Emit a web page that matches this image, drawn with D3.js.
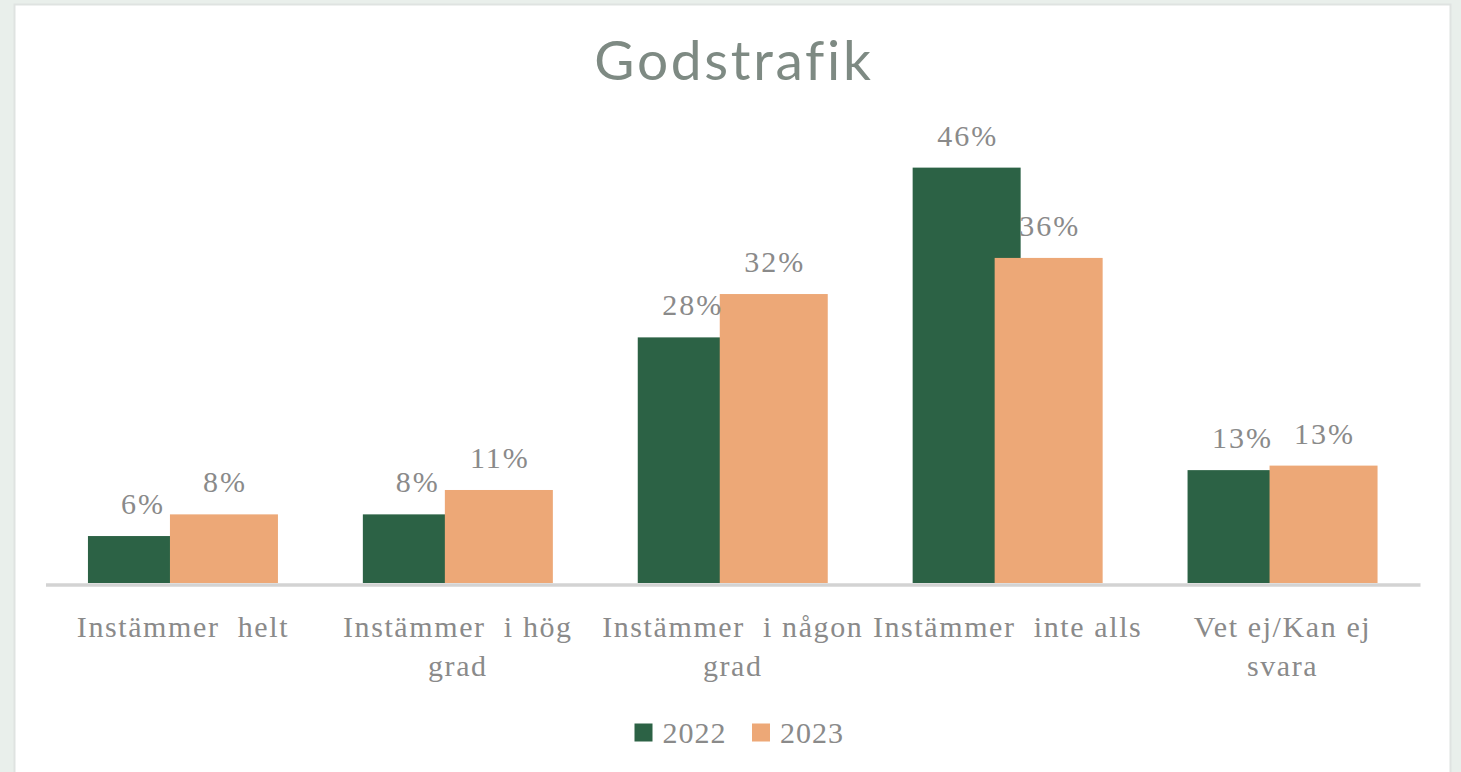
<!DOCTYPE html>
<html>
<head>
<meta charset="utf-8">
<script src="https://cdn.jsdelivr.net/npm/d3@7"></script>
<style>
  html, body { margin: 0; padding: 0; background: #e9efeb; }
  svg { display: block; }
  text { white-space: pre; }
  .serif { font-family: "Liberation Serif", "Times New Roman", Times, "DejaVu Serif", serif; }
</style>
</head>
<body>
<svg id="chart" width="1461" height="772"></svg>
<script>
// ---- data ----
const title = "Godstrafik";
const categories = [
  "Instämmer  helt",
  "Instämmer  i hög grad",
  "Instämmer  i någon grad",
  "Instämmer  inte alls",
  "Vet ej/Kan ej svara"
];
const categoryLines = [
  ["Instämmer  helt"],
  ["Instämmer  i hög", "grad"],
  ["Instämmer  i någon", "grad"],
  ["Instämmer  inte alls"],
  ["Vet ej/Kan ej", "svara"]
];
const seriesNames = ["2022", "2023"];
const values2022 = [5.2, 7.6, 27.2, 46.0, 12.5];
const values2023 = [7.6, 10.3, 32.0, 36.0, 13.0];
const labels2022 = ["6%", "8%", "28%", "46%", "13%"];
const labels2023 = ["8%", "11%", "32%", "36%", "13%"];
const colors = ["#2c6245", "#eda877"];

// ---- layout ----
const svg = d3.select("#chart");
const plot = { left: 45.5, right: 1420, top: 130, bottom: 583 };

svg.append("rect").attr("x", 14.5).attr("y", 4.5).attr("width", 1436).attr("height", 780)
  .attr("fill", "#ffffff").attr("stroke", "#dfe3e1").attr("stroke-width", 2);

svg.append("text")
  .attr("x", 734).attr("y", 80)
  .attr("text-anchor", "middle")
  .attr("font-family", "Lato, 'Open Sans', sans-serif")
  .attr("font-size", 55)
  .attr("letter-spacing", 2.7)
  .attr("fill", "#7e8a83")
  .text(title);

const x = d3.scaleBand().domain(categories).range([plot.left, plot.right]).paddingInner(0).paddingOuter(0);
const y = d3.scaleLinear().domain([0, 50]).range([plot.bottom, plot.bottom - 451.5]);

const barW = 108;
const offset = 82;
const groupW = offset + barW;

const series = [values2022, values2023];
const labels = [labels2022, labels2023];

series.forEach((vals, s) => {
  svg.append("g").selectAll("rect").data(vals).join("rect")
    .attr("x", (d, i) => x(categories[i]) + (x.bandwidth() - groupW) / 2 + s * offset)
    .attr("y", d => y(d))
    .attr("width", barW)
    .attr("height", d => y(0) - y(d))
    .attr("fill", colors[s]);
});

series.forEach((vals, s) => {
  svg.append("g").selectAll("text").data(vals).join("text")
    .attr("class", "serif")
    .attr("x", (d, i) => x(categories[i]) + (x.bandwidth() - groupW) / 2 + s * offset + barW / 2 + 1)
    .attr("y", d => y(d) - 22)
    .attr("text-anchor", "middle")
    .attr("font-size", 30)
    .attr("letter-spacing", 2)
    .attr("fill", "#8a8a8a")
    .text((d, i) => labels[s][i]);
});

const xAxis = d3.axisBottom(x).tickSize(0).tickFormat(() => "");
const axG = svg.append("g").attr("transform", `translate(0,${plot.bottom + 1.5})`).call(xAxis);
axG.select(".domain").attr("stroke", "#d3d3d3").attr("stroke-width", 3.5);

categoryLines.forEach((lines, i) => {
  const t = svg.append("text")
    .attr("class", "serif")
    .attr("text-anchor", "middle")
    .attr("font-size", 30)
    .attr("letter-spacing", 1.6)
    .attr("fill", "#8a8a8a");
  lines.forEach((ln, k) => {
    t.append("tspan")
      .attr("x", x(categories[i]) + x.bandwidth() / 2)
      .attr("y", 637 + k * 39)
      .text(ln);
  });
});

const legendX = [634.5, 752];
seriesNames.forEach((name, s) => {
  svg.append("rect").attr("x", legendX[s]).attr("y", 723.5).attr("width", 18).attr("height", 18)
    .attr("fill", colors[s]);
  svg.append("text").attr("class", "serif").attr("x", legendX[s] + 28).attr("y", 743)
    .attr("font-size", 30)
    .attr("letter-spacing", 1)
    .attr("fill", "#8a8a8a")
    .text(name);
});
</script>
</body>
</html>
